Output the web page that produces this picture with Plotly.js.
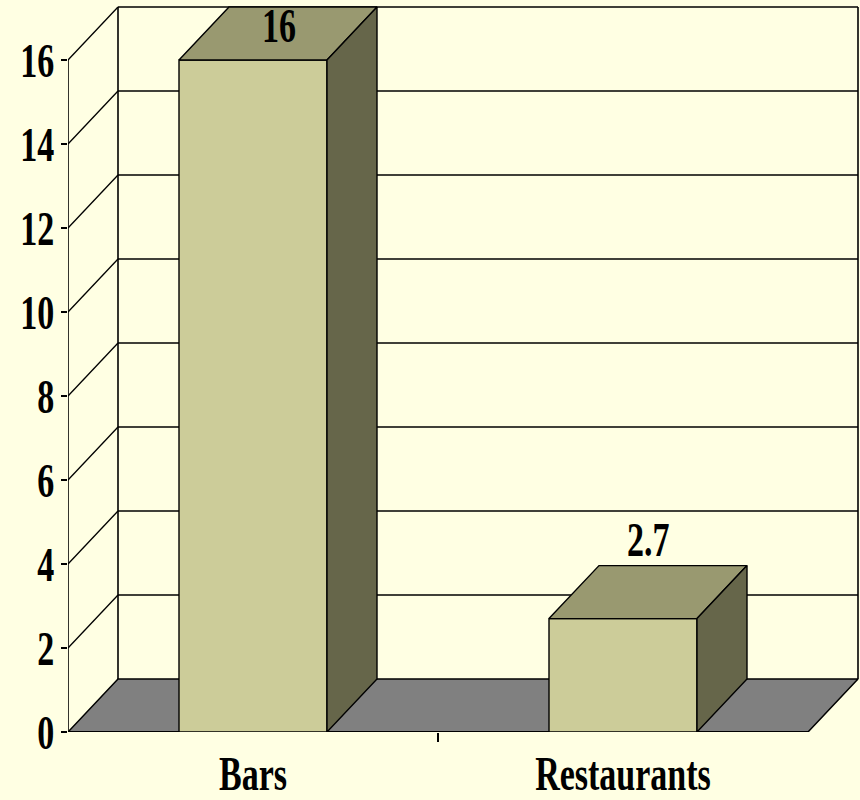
<!DOCTYPE html>
<html>
<head>
<meta charset="utf-8">
<script src="https://cdn.plot.ly/plotly-3.0.1.min.js"></script>
<style>
  html, body { margin: 0; padding: 0; background: #FFFFE3; }
  #chart { width: 860px; height: 800px; }
</style>
</head>
<body>
<div id="chart"></div>
<script>
// ---- data ----
const categories = ['Bars', 'Restaurants'];
const values = [16, 2.7];
const valueLabels = ['16', '2.7'];
const yTickValues = [0, 2, 4, 6, 8, 10, 12, 14, 16];
const yTickLabels = ['0', '2', '4', '6', '8', '10', '12', '14', '16'];

// ---- styling / geometry (pseudo-3D) ----
const BG = '#FFFFE3';
const FRONT = '#CCCC99', TOP = '#999970', SIDE = '#66664A', FLOOR = '#808080';
const INK = '#000000';
const FONT = 'Liberation Serif, Times New Roman, serif';
const yMax = 16;             // value-axis maximum
const depthX = 50 / 370;     // depth offset in x-axis units
const depthY = 53 / 42;      // depth offset in y-axis units
const barW = 0.4;
const xLo = -0.5, xHi = categories.length - 0.5;
const TEXT_STRETCH = 1.4;

const traces = [];
function poly(xs, ys, fill, lw) {
  traces.push({
    type: 'scatter', mode: 'lines', x: xs.concat([xs[0]]), y: ys.concat([ys[0]]),
    fill: 'toself', fillcolor: fill, line: {color: INK, width: lw},
    hoverinfo: 'skip', showlegend: false
  });
}
function seg(xs, ys, lw) {
  traces.push({
    type: 'scatter', mode: 'lines', x: xs, y: ys,
    line: {color: INK, width: lw}, hoverinfo: 'skip', showlegend: false
  });
}

// floor
poly([xLo, xHi, xHi + depthX, xLo + depthX], [0, 0, depthY, depthY], FLOOR, 1.5);
// back wall grid lines and side wall diagonals
yTickValues.forEach(v => {
  if (v === 0) return;
  seg([xLo + depthX, xHi + depthX], [v + depthY, v + depthY], 1.6);
  seg([xLo, xLo + depthX], [v, v + depthY], 1.3);
});
// wall edges
seg([xLo + depthX, xLo + depthX], [depthY, yMax + depthY], 1.6);
seg([xHi + depthX, xHi + depthX], [depthY, yMax + depthY], 1.6);
// value axis line and category axis line
seg([xLo, xLo], [0, yMax], 1.6);
seg([xLo, xHi], [0, 0], 2.2);

// bars
values.forEach((v, i) => {
  const l = i - barW / 2, r = i + barW / 2;
  poly([l, r, r, l], [0, 0, v, v], FRONT, 1.4);
  poly([l, r, r + depthX, l + depthX], [v, v, v + depthY, v + depthY], TOP, 1.4);
  poly([r, r + depthX, r + depthX, r], [0, depthY, v + depthY, v], SIDE, 1.4);
});

const yTop = yMax + depthY;
const annotations = values.map((v, i) => ({
  x: i + 0.07, y: Math.min(v + depthY + 0.62, yTop - 0.45),
  xref: 'x', yref: 'y', text: valueLabels[i], showarrow: false,
  xanchor: 'center', yanchor: 'middle',
  font: {family: FONT, size: 34, color: INK, weight: 'bold'}
}));

const padX = 2 / 370, padY = 2 / 42;
const layout = {
  width: 860, height: 800,
  paper_bgcolor: BG, plot_bgcolor: BG,
  margin: {l: 68, r: 0, t: 5, b: 68},
  showlegend: false,
  xaxis: {
    range: [xLo, xHi + depthX + padX], showgrid: false, zeroline: false, showline: false,
    tickmode: 'array', tickvals: categories.map((c, i) => i), ticktext: categories,
    ticks: '', ticklabelstandoff: 18,
    minor: {tickmode: 'array', tickvals: [0.5], ticks: 'outside', ticklen: 9, tickwidth: 1.6, tickcolor: INK},
    tickfont: {family: FONT, size: 34, color: INK, weight: 'bold'},
    fixedrange: true
  },
  yaxis: {
    range: [0, yTop + padY], showgrid: false, zeroline: false, showline: false,
    tickmode: 'array', tickvals: yTickValues, ticktext: yTickLabels,
    ticks: 'outside', ticklen: 6, tickwidth: 1.6, tickcolor: INK,
    tickfont: {family: FONT, size: 34, color: INK, weight: 'bold'},
    fixedrange: true
  },
  annotations: annotations
};

Plotly.newPlot('chart', traces, layout, {staticPlot: true, displayModeBar: false}).then(gd => {
  // vertically stretch text like the source (condensed bold serif)
  gd.querySelectorAll('g.xtick text, g.ytick text, text.annotation-text').forEach(t => {
    const b = t.getBBox();
    const cx = b.x + b.width / 2, cy = b.y + b.height / 2;
    const prev = t.getAttribute('transform') || '';
    t.setAttribute('transform', prev + ' translate(' + cx + ',' + cy + ') scale(1,' + TEXT_STRETCH + ') translate(' + (-cx) + ',' + (-cy) + ')');
  });
});
</script>
</body>
</html>
